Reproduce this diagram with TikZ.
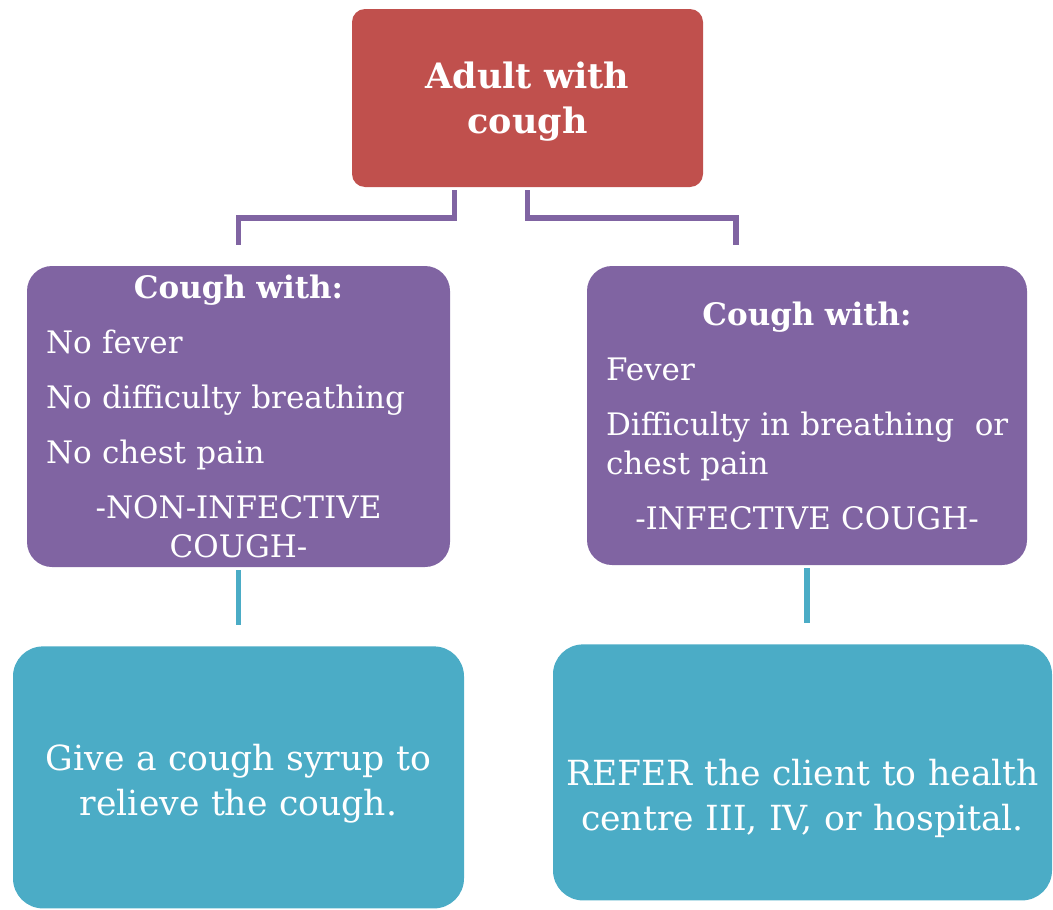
\documentclass[tikz,border=0pt]{standalone}
\usepackage{fontspec}
\setmainfont{DejaVu Serif}
\usetikzlibrary{positioning}
\definecolor{adultred}{HTML}{C0504D}
\definecolor{caseviolet}{HTML}{8064A2}
\definecolor{actionteal}{HTML}{4BACC6}

\begin{document}
\begin{tikzpicture}[
  x=1pt, y=1pt,
  node distance=79pt,
  box/.style={inner sep=0pt, text=white},
  startbox/.style={box, fill=adultred, rounded corners=13pt, align=center,
                   minimum width=351pt, minimum height=178pt,
                   font=\fontsize{35}{45}\selectfont\bfseries},
  casebox/.style={box, fill=caseviolet, rounded corners=25pt,
                  font=\fontsize{31}{39}\selectfont},
  actbox/.style={box, fill=actionteal, rounded corners=30pt, align=center,
                 font=\fontsize{34.6}{45}\selectfont},
  link/.style={line width=5.5pt, caseviolet},
  tlink/.style={line width=5.5pt, actionteal}
]
\useasboundingbox (0,0) rectangle (1053,-910);

\node[startbox] (adult) at (527.5,-98) {\rule{0pt}{33pt}Adult with\\cough};

\node[casebox, minimum width=423pt, minimum height=301pt, text width=385pt]
  (nonInf) at (238.5,-416.5)
  {\setlength{\parskip}{16pt}%
   {\centering\bfseries Cough with:\par}
   \raggedright
   No fever\par
   No difficulty breathing\par
   No chest pain\par
   {\centering -NON-INFECTIVE\\COUGH-\par}};
\node[casebox, minimum width=440pt, minimum height=299pt, text width=402pt]
  (inf) at (807,-415.5)
  {\setlength{\parskip}{16pt}%
   {\centering\bfseries Cough with:\par}
   \raggedright
   Fever\par
   \mbox{Difficulty in breathing\ \ or}\\chest pain\par
   {\centering -INFECTIVE COUGH-\par}};

\node[actbox, below=of nonInf, minimum width=451pt, minimum height=262pt,
      text width=430pt] (syrup)
  {\rule{0pt}{39pt}Give a cough syrup to\\relieve the cough.};
\node[actbox, below=of inf, xshift=-4.5pt, minimum width=499pt,
      minimum height=256pt, text width=490pt] (refer)
  {\rule{0pt}{79pt}REFER the client to health\\centre III, IV, or hospital.};

% elbows from the start box
\draw[link] ([xshift=-73pt,yshift=-3pt]adult.south) -- ++(0,-28)
  -| ([yshift=21pt]nonInf.north);
\draw[link] ([yshift=-3pt]adult.south) -- ++(0,-28)
  -| ([xshift=-71pt,yshift=21pt]inf.north);
\draw[tlink] ([yshift=-3pt]nonInf.south) -- ([yshift=21pt]syrup.north);
\draw[tlink] ([yshift=-3pt]inf.south) -- ([yshift=21pt]refer.north -| inf.south);
\end{tikzpicture}
\end{document}
